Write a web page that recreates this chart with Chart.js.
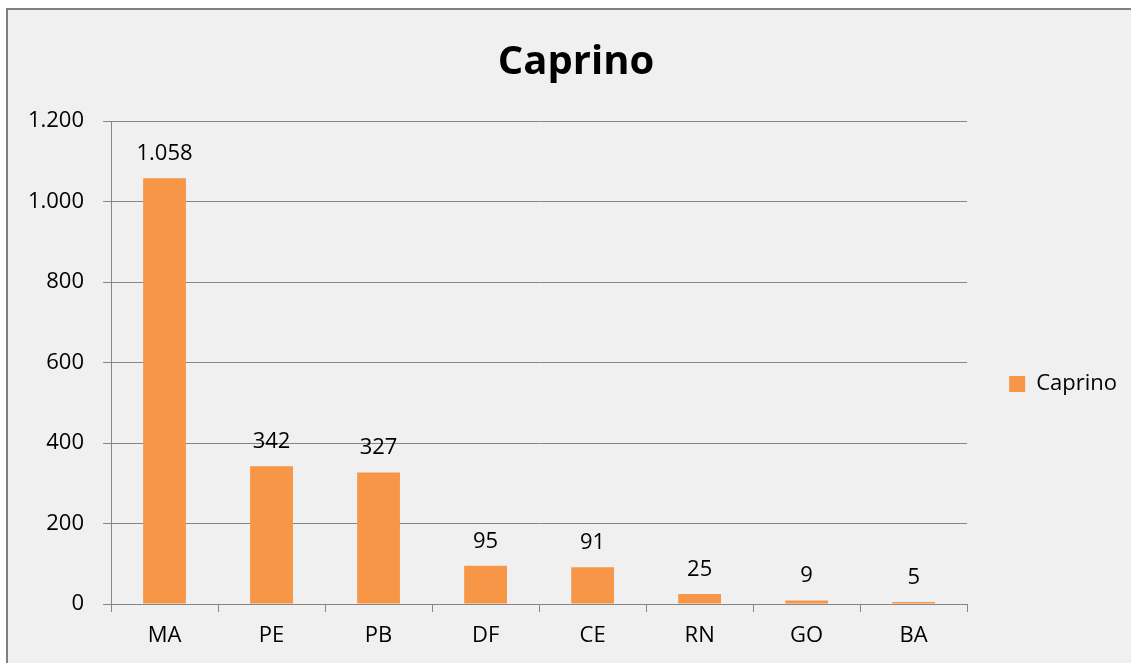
<!DOCTYPE html>
<html>
<head>
<meta charset="utf-8">
<script src="https://cdn.jsdelivr.net/npm/chart.js@4/dist/chart.umd.min.js"></script>
<style>
html,body{margin:0;padding:0;background:#fff;overflow:hidden;}
#frame{position:absolute;left:6px;top:8px;width:1200px;height:800px;background:#f0f0f0;border-left:2px solid #7f7f7f;border-top:2px solid #7f7f7f;}
#chart{position:absolute;left:0;top:0;}
</style>
</head>
<body>
<div id="frame"><canvas id="chart" width="1134" height="748"></canvas></div>
<script>
// data
let estados=["MA","PE","PB","DF","CE","RN","GO","BA"]
let caprino=[1058,342,327,95,91,25,9,5]
let serieNome="Caprino"

function fmt(v){
return String(v).replace(/\B(?=(\d{3})+(?!\d))/g,".")
}

let gridCor="#868686"
let fonte="'Open Sans', sans-serif"

// value labels above bars
let rotulos={
id:"rotulos",
afterDatasetsDraw:function(chart){
let ctx=chart.ctx
let meta=chart.getDatasetMeta(0)
ctx.save()
ctx.font="22px "+fonte
ctx.fillStyle="#000"
ctx.textAlign="center"
ctx.textBaseline="alphabetic"
meta.data.forEach(function(bar,i){
ctx.fillText(fmt(chart.data.datasets[0].data[i]),bar.x,bar.y-18)
})
ctx.restore()
}
}

new Chart(document.getElementById("chart"),{

type:"bar",

data:{
labels:estados,
datasets:[{
label:serieNome,
data:caprino,
backgroundColor:"#f79646",
borderWidth:0,
barPercentage:0.4,
categoryPercentage:1
}]
},

options:{
responsive:false,
animation:false,
devicePixelRatio:1,
layout:{padding:{left:17,right:15,top:0,bottom:0}},
plugins:{
title:{
display:true,
text:"Caprino",
color:"#000",
font:{family:fonte,size:40,weight:"bold",lineHeight:1.2},
padding:{top:29,bottom:34}
},
legend:{
position:"right",
labels:{
color:"#000",
font:{family:fonte,size:22},
boxWidth:16,
boxHeight:16,
padding:42
}
},
tooltip:{enabled:false}
},
scales:{
x:{
grid:{drawOnChartArea:false,color:gridCor,tickLength:8},
border:{color:gridCor},
ticks:{color:"#000",font:{family:fonte,size:22},padding:11},
afterFit:function(s){s.height=154}
},
y:{
min:0,
max:1200,
ticks:{stepSize:200,color:"#000",font:{family:fonte,size:22},padding:19,
callback:function(v){return fmt(v)}},
grid:{color:gridCor,tickLength:8},
border:{color:gridCor},
afterFit:function(s){s.width=86}
}
}
},

plugins:[rotulos]

})
</script>
</body>
</html>
